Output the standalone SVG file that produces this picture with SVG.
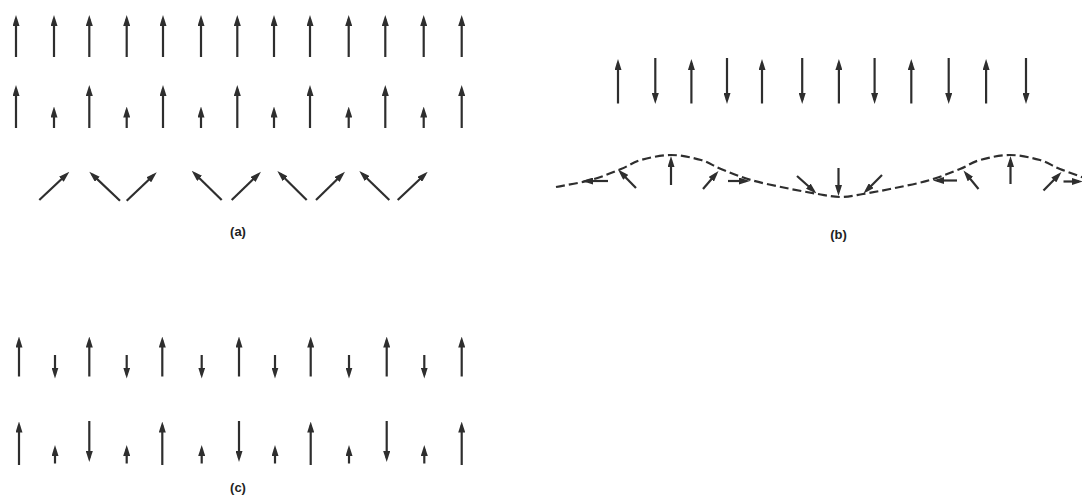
<svg xmlns="http://www.w3.org/2000/svg" width="1082" height="495" viewBox="0 0 1082 495">
<style>
.a{stroke:#2e2e2e;stroke-width:2.2;fill:none;marker-end:url(#h)}
.w{stroke:#2e2e2e;stroke-width:2.2;fill:none;stroke-dasharray:9 4}
.lbl{font-family:"Liberation Sans",Arial,sans-serif;font-weight:bold;font-size:13px;fill:#222;text-anchor:middle}
</style>
<defs>
<marker id="h" viewBox="0 0 11 7" refX="7" refY="3.5" markerWidth="11" markerHeight="7" markerUnits="userSpaceOnUse" orient="auto">
<path d="M0,0 L11,3.5 L0,7 z" fill="#2e2e2e"/>
</marker>
</defs>
<rect width="1082" height="495" fill="#fff"/>

<g id="panel-a">
<g id="a-row1">
<line class="a" x1="16" y1="57" x2="16" y2="19"/>
<line class="a" x1="54" y1="57" x2="54" y2="19"/>
<line class="a" x1="89.3" y1="57" x2="89.3" y2="19"/>
<line class="a" x1="126.7" y1="57" x2="126.7" y2="19"/>
<line class="a" x1="163" y1="57" x2="163" y2="19"/>
<line class="a" x1="201" y1="57" x2="201" y2="19"/>
<line class="a" x1="237.3" y1="57" x2="237.3" y2="19"/>
<line class="a" x1="274" y1="57" x2="274" y2="19"/>
<line class="a" x1="310" y1="57" x2="310" y2="19"/>
<line class="a" x1="348.7" y1="57" x2="348.7" y2="19"/>
<line class="a" x1="385.3" y1="57" x2="385.3" y2="19"/>
<line class="a" x1="423.7" y1="57" x2="423.7" y2="19"/>
<line class="a" x1="461.7" y1="57" x2="461.7" y2="19"/>
</g>
<g id="a-row2">
<line class="a" x1="16" y1="128" x2="16" y2="89"/>
<line class="a" x1="54" y1="128" x2="54" y2="110.5"/>
<line class="a" x1="89.3" y1="128" x2="89.3" y2="89"/>
<line class="a" x1="126.7" y1="128" x2="126.7" y2="110.5"/>
<line class="a" x1="163" y1="128" x2="163" y2="89"/>
<line class="a" x1="201" y1="128" x2="201" y2="110.5"/>
<line class="a" x1="237.3" y1="128" x2="237.3" y2="89"/>
<line class="a" x1="274" y1="128" x2="274" y2="110.5"/>
<line class="a" x1="310" y1="128" x2="310" y2="89"/>
<line class="a" x1="348.7" y1="128" x2="348.7" y2="110.5"/>
<line class="a" x1="385.3" y1="128" x2="385.3" y2="89"/>
<line class="a" x1="423.7" y1="128" x2="423.7" y2="110.5"/>
<line class="a" x1="461.7" y1="128" x2="461.7" y2="89"/>
</g>
<g id="a-row3">
<line class="a" x1="39.3" y1="200" x2="66.4" y2="174.5"/>
<line class="a" x1="120" y1="200.7" x2="92.2" y2="174.4"/>
<line class="a" x1="126.7" y1="200.7" x2="153.8" y2="175"/>
<line class="a" x1="221.7" y1="200" x2="194.6" y2="173.5"/>
<line class="a" x1="231.7" y1="200" x2="258.1" y2="174.5"/>
<line class="a" x1="306.7" y1="200" x2="280.2" y2="173.8"/>
<line class="a" x1="316" y1="200" x2="342.1" y2="174.5"/>
<line class="a" x1="389.3" y1="200" x2="362.2" y2="173.8"/>
<line class="a" x1="397.7" y1="200" x2="424.8" y2="174.5"/>
</g>
<text id="label-a" class="lbl" x="238" y="236">(a)</text>
</g>

<g id="panel-b">
<g id="b-row">
<line class="a" x1="618" y1="103.5" x2="618" y2="63"/>
<line class="a" x1="655.3" y1="58" x2="655.3" y2="100"/>
<line class="a" x1="691.4" y1="103.5" x2="691.4" y2="63"/>
<line class="a" x1="727" y1="58" x2="727" y2="100"/>
<line class="a" x1="762" y1="103.5" x2="762" y2="63"/>
<line class="a" x1="802.2" y1="58" x2="802.2" y2="100"/>
<line class="a" x1="838.9" y1="103.5" x2="838.9" y2="63"/>
<line class="a" x1="874.6" y1="58" x2="874.6" y2="100"/>
<line class="a" x1="911.3" y1="103.5" x2="911.3" y2="63"/>
<line class="a" x1="948.7" y1="58" x2="948.7" y2="100"/>
<line class="a" x1="986.1" y1="103.5" x2="986.1" y2="63"/>
<line class="a" x1="1026" y1="58" x2="1026" y2="100"/>
</g>
<g id="b-wave">
<path class="w" d="M556,187 C567.7,184.7 580.2,183 591,180 S612.7,172.3 621,169 S632.7,162.3 641,160 S661,155 671,155 S692.7,157.7 701,160 S712.7,165.7 721,169 S740.2,176.8 751,180 S774.8,185.7 786,188 S808.9,192.5 818,194 S833,197 840.5,197 S853.9,195.5 863,194 S883.8,190.3 895,188 S919.2,183.2 930,180 S951.7,172.3 960,169 S971.7,162.3 980,160 S1000,155 1010,155 S1031.7,157.7 1040,160 S1051.7,165.7 1060,169 S1080,176.3 1090,180"/>
<line class="a" x1="608" y1="181" x2="586" y2="181"/>
<line class="a" x1="636" y1="188" x2="620.8" y2="172.4"/>
<line class="a" x1="671" y1="185" x2="671" y2="160"/>
<line class="a" x1="703" y1="189" x2="715.9" y2="174"/>
<line class="a" x1="728" y1="181" x2="746" y2="181"/>
<line class="a" x1="797" y1="176" x2="813.5" y2="190.8"/>
<line class="a" x1="838.5" y1="168" x2="838.5" y2="192"/>
<line class="a" x1="882" y1="175" x2="866.3" y2="190.7"/>
<line class="a" x1="957" y1="180.5" x2="937" y2="180.5"/>
<line class="a" x1="978.5" y1="189" x2="966" y2="173.6"/>
<line class="a" x1="1010.5" y1="184" x2="1010.5" y2="160"/>
<line class="a" x1="1043.5" y1="190.5" x2="1058.7" y2="174.9"/>
<line class="a" x1="1063.5" y1="181.5" x2="1079" y2="181.5"/>
</g>
<text id="label-b" class="lbl" x="838.5" y="239">(b)</text>
</g>

<g id="panel-c">
<g id="c-row1">
<line class="a" x1="19" y1="376.5" x2="19" y2="340.5"/>
<line class="a" x1="55" y1="355" x2="55" y2="374.5"/>
<line class="a" x1="89.3" y1="376.5" x2="89.3" y2="340.5"/>
<line class="a" x1="126.7" y1="355" x2="126.7" y2="374.5"/>
<line class="a" x1="162.3" y1="376.5" x2="162.3" y2="340.5"/>
<line class="a" x1="201.7" y1="355" x2="201.7" y2="374.5"/>
<line class="a" x1="239" y1="376.5" x2="239" y2="340.5"/>
<line class="a" x1="275" y1="355" x2="275" y2="374.5"/>
<line class="a" x1="310.7" y1="376.5" x2="310.7" y2="340.5"/>
<line class="a" x1="349" y1="355" x2="349" y2="374.5"/>
<line class="a" x1="386.7" y1="376.5" x2="386.7" y2="340.5"/>
<line class="a" x1="424.3" y1="355" x2="424.3" y2="374.5"/>
<line class="a" x1="461.7" y1="376.5" x2="461.7" y2="340.5"/>
</g>
<g id="c-row2">
<line class="a" x1="19" y1="465" x2="19" y2="425.5"/>
<line class="a" x1="55" y1="463.5" x2="55" y2="449"/>
<line class="a" x1="89.3" y1="421" x2="89.3" y2="458"/>
<line class="a" x1="126.7" y1="463.5" x2="126.7" y2="449"/>
<line class="a" x1="162.3" y1="465" x2="162.3" y2="425.5"/>
<line class="a" x1="201.7" y1="463.5" x2="201.7" y2="449"/>
<line class="a" x1="239" y1="421" x2="239" y2="458"/>
<line class="a" x1="275" y1="463.5" x2="275" y2="449"/>
<line class="a" x1="310.7" y1="465" x2="310.7" y2="425.5"/>
<line class="a" x1="349" y1="463.5" x2="349" y2="449"/>
<line class="a" x1="386.7" y1="421" x2="386.7" y2="458"/>
<line class="a" x1="424.3" y1="463.5" x2="424.3" y2="449"/>
<line class="a" x1="461.7" y1="465" x2="461.7" y2="425.5"/>
</g>
<text id="label-c" class="lbl" x="238" y="492">(c)</text>
</g>
</svg>
